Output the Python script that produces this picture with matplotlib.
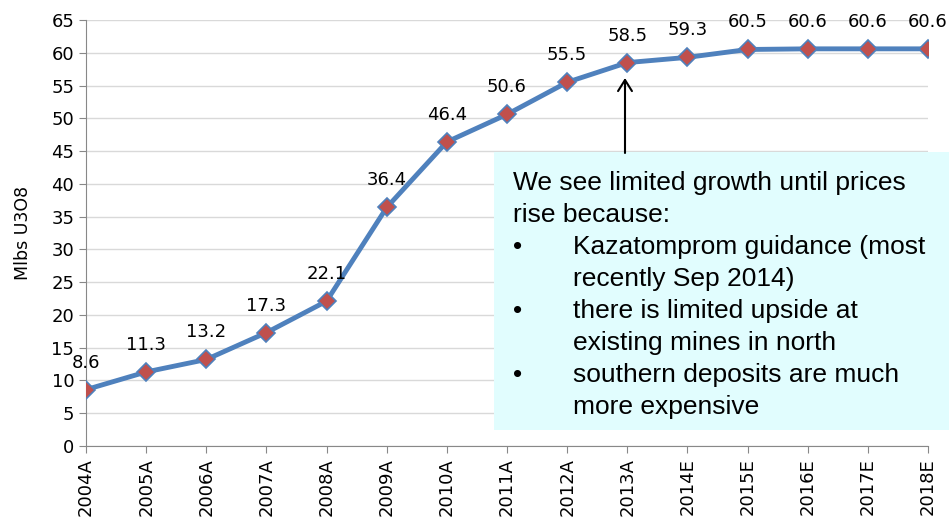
import matplotlib
matplotlib.use("Agg")
import matplotlib.pyplot as plt

years = ["2004A", "2005A", "2006A", "2007A", "2008A", "2009A", "2010A", "2011A",
         "2012A", "2013A", "2014E", "2015E", "2016E", "2017E", "2018E"]
values = [8.6, 11.3, 13.2, 17.3, 22.1, 36.4, 46.4, 50.6, 55.5, 58.5, 59.3, 60.5, 60.6, 60.6, 60.6]
y_ticks = list(range(0, 70, 5))

fig = plt.figure(figsize=(9.49, 5.23), dpi=100)
ax = fig.add_axes([86/949, 1 - 446/523, (928 - 86)/949, (446 - 20)/523])

x = list(range(len(years)))
ax.plot(x, values, color="#4F81BD", lw=3.5, marker="D", markersize=9,
        markerfacecolor="#C0504D", markeredgecolor="#4F81BD", markeredgewidth=1.2, zorder=3)

for xi, v in zip(x, values):
    ax.annotate(f"{v:.1f}", (xi, v), xytext=(0, 13), textcoords="offset points",
                ha="center", va="bottom", fontsize=13, family="DejaVu Sans", color="black")

ax.set_xlim(0, len(years) - 1)
ax.set_ylim(0, 65)
ax.set_yticks(y_ticks)
ax.set_xticks(x)
ax.set_xticklabels(years, rotation=90, fontsize=13)
ax.tick_params(axis="y", labelsize=13, length=5, color="#888888")
ax.tick_params(axis="x", length=5, color="#888888")
ax.grid(axis="y", color="#D9D9D9", lw=1)
ax.set_axisbelow(True)
for s in ["top", "right"]:
    ax.spines[s].set_visible(False)
for s in ["left", "bottom"]:
    ax.spines[s].set_color("#888888")
ax.set_ylabel("Mlbs U3O8", fontsize=12.5, labelpad=14)

# Text box
box = plt.Rectangle((494/949, 1 - 430/523), (949 - 494)/949, (430 - 152)/523,
                    transform=fig.transFigure, facecolor="#E1FDFE", edgecolor="none", zorder=5)
fig.add_artist(box)
fs = 19
lines_y = [183, 215, 247, 279, 311, 343, 375, 407]
texts = [(None, "We see limited growth until prices"), (None, "rise because:"),
         ("•", "Kazatomprom guidance (most"), (None, "recently Sep 2014)"),
         ("•", "there is limited upside at"), (None, "existing mines in north"),
         ("•", "southern deposits are much"), (None, "more expensive")]
for i, (bul, t) in enumerate(texts):
    yy = 1 - lines_y[i]/523
    xx = 513/949 if i < 2 else 573/949
    fig.text(xx, yy, t, fontsize=fs, family="Liberation Sans", va="center", ha="left", zorder=6)
    if bul:
        fig.text(513/949, yy, bul, fontsize=fs, family="Liberation Sans", va="center", ha="left", zorder=6)

# Arrow
fig.add_artist(matplotlib.patches.FancyArrowPatch(
    (625/949, 1 - 153/523), (625/949, 1 - 78/523), transform=fig.transFigure,
    arrowstyle="->,head_length=8,head_width=5", color="black", lw=1.5, zorder=6,
    shrinkA=0, shrinkB=0))

fig.savefig("out.png", dpi=100)
